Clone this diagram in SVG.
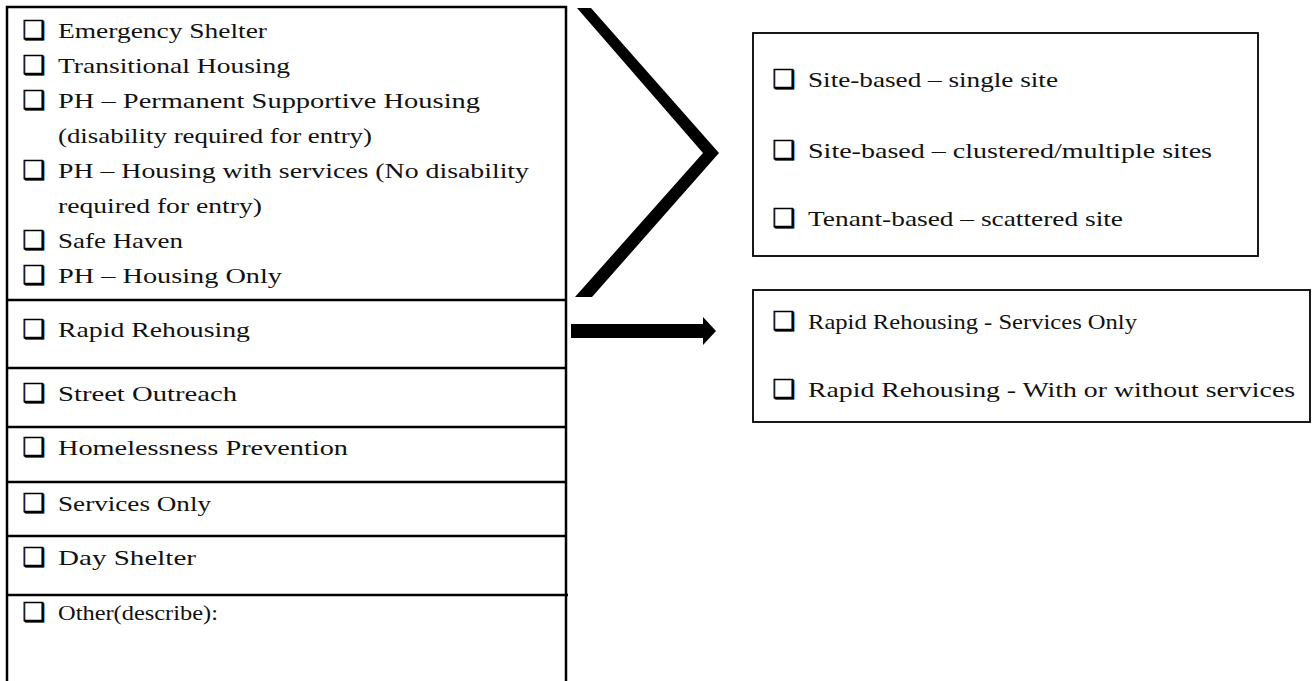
<svg xmlns="http://www.w3.org/2000/svg" width="1313" height="681" viewBox="0 0 1313 681">
<style>
.t{font-family:"Liberation Serif","Times New Roman",serif;font-size:22px;fill:#111}
.cb{font-family:"DejaVu Sans",sans-serif;font-size:26px;fill:#000;stroke:#000;stroke-width:0.5}
.sep{stroke:#000;stroke-width:2.5}
.rbox{fill:#fff;stroke:#000;stroke-width:1.8}
</style>
<rect width="1313" height="681" fill="#fff"/>
<g id="left-box">
<path d="M7 684 V7 H566 V684" fill="none" stroke="#000" stroke-width="2.5"/>
<line class="sep" x1="7" y1="300" x2="566" y2="300"/>
<line class="sep" x1="7" y1="368" x2="566" y2="368"/>
<line class="sep" x1="7" y1="427" x2="566" y2="427"/>
<line class="sep" x1="7" y1="482" x2="566" y2="482"/>
<line class="sep" x1="7" y1="536" x2="566" y2="536"/>
<line class="sep" x1="7" y1="595" x2="568" y2="595"/>
</g>
<g id="residential-types">
<text class="cb" x="22" y="39">❑</text><text class="t" x="58" y="38" textLength="209" lengthAdjust="spacingAndGlyphs">Emergency Shelter</text>
<text class="cb" x="22" y="74">❑</text><text class="t" x="58" y="73" textLength="232" lengthAdjust="spacingAndGlyphs">Transitional Housing</text>
<text class="cb" x="22" y="109">❑</text><text class="t" x="58" y="108" textLength="422" lengthAdjust="spacingAndGlyphs">PH – Permanent Supportive Housing</text>
<text class="t" x="58" y="143" textLength="314" lengthAdjust="spacingAndGlyphs">(disability required for entry)</text>
<text class="cb" x="22" y="179">❑</text><text class="t" x="58" y="178" textLength="471" lengthAdjust="spacingAndGlyphs">PH – Housing with services (No disability</text>
<text class="t" x="58" y="213" textLength="204" lengthAdjust="spacingAndGlyphs">required for entry)</text>
<text class="cb" x="22" y="249">❑</text><text class="t" x="58" y="248" textLength="125" lengthAdjust="spacingAndGlyphs">Safe Haven</text>
<text class="cb" x="22" y="284">❑</text><text class="t" x="58" y="283" textLength="224" lengthAdjust="spacingAndGlyphs">PH – Housing Only</text>
</g>
<g id="rapid-rehousing">
<text class="cb" x="22" y="338">❑</text><text class="t" x="58" y="337" textLength="192" lengthAdjust="spacingAndGlyphs">Rapid Rehousing</text>
</g>
<g id="street-outreach">
<text class="cb" x="22" y="402">❑</text><text class="t" x="58" y="401" textLength="179" lengthAdjust="spacingAndGlyphs">Street Outreach</text>
</g>
<g id="homelessness-prevention">
<text class="cb" x="22" y="456">❑</text><text class="t" x="58" y="455" textLength="290" lengthAdjust="spacingAndGlyphs">Homelessness Prevention</text>
</g>
<g id="services-only">
<text class="cb" x="22" y="512">❑</text><text class="t" x="58" y="511" textLength="153" lengthAdjust="spacingAndGlyphs">Services Only</text>
</g>
<g id="day-shelter">
<text class="cb" x="22" y="566">❑</text><text class="t" x="58" y="565" textLength="138" lengthAdjust="spacingAndGlyphs">Day Shelter</text>
</g>
<g id="other">
<text class="cb" x="22" y="621">❑</text><text class="t" x="58" y="620" textLength="160" lengthAdjust="spacingAndGlyphs">Other(describe):</text>
</g>
<g id="connectors">
<polygon points="577,8 591,8 719,153 592,297 575,297 703,153" fill="#000"/>
<rect x="571" y="324" width="133" height="14" fill="#000"/>
<polygon points="703,317 716,331 703,345" fill="#000"/>
</g>
<g id="site-types">
<rect class="rbox" x="753" y="33" width="505" height="223"/>
<text class="cb" x="772" y="88">❑</text><text class="t" x="808" y="87" textLength="250" lengthAdjust="spacingAndGlyphs">Site-based – single site</text>
<text class="cb" x="772" y="159">❑</text><text class="t" x="808" y="158" textLength="404" lengthAdjust="spacingAndGlyphs">Site-based – clustered/multiple sites</text>
<text class="cb" x="772" y="227">❑</text><text class="t" x="808" y="226" textLength="315" lengthAdjust="spacingAndGlyphs">Tenant-based – scattered site</text>
</g>
<g id="rrh-types">
<rect class="rbox" x="753" y="290" width="557" height="132"/>
<text class="cb" x="772" y="330">❑</text><text class="t" x="808" y="329" textLength="329" lengthAdjust="spacingAndGlyphs">Rapid Rehousing - Services Only</text>
<text class="cb" x="772" y="398">❑</text><text class="t" x="808" y="397" textLength="487" lengthAdjust="spacingAndGlyphs">Rapid Rehousing - With or without services</text>
</g>
</svg>
